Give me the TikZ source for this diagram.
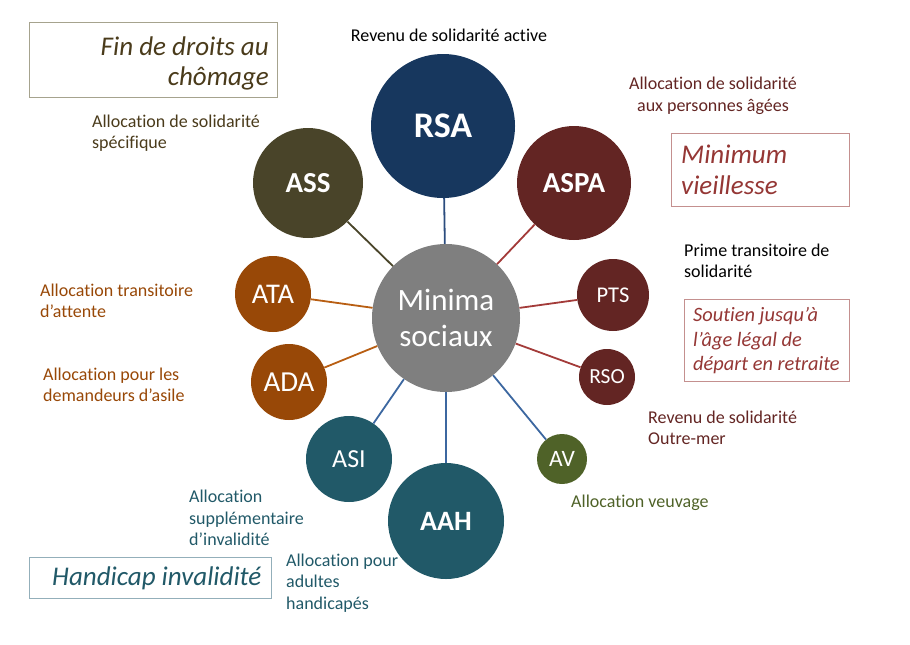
\documentclass[tikz,border=0pt]{standalone}
\usepackage{fontspec}
\setmainfont{Carlito}[Ligatures=NoCommon]
\definecolor{cnavy}{HTML}{17375E}
\definecolor{cdred}{HTML}{632523}
\definecolor{colive}{HTML}{494429}
\definecolor{corange}{HTML}{984807}
\definecolor{cteal}{HTML}{215968}
\definecolor{cgreen}{HTML}{4F6228}
\definecolor{cgray}{HTML}{7F7F7F}
\definecolor{lnavy}{HTML}{2B4C7E}
\definecolor{lred}{HTML}{A33B39}
\definecolor{lolive}{HTML}{4A452A}
\definecolor{lorange}{HTML}{B85E12}
\definecolor{lblue}{HTML}{3C67A0}
\definecolor{tbrown}{HTML}{4A3B1B}
\definecolor{tred}{HTML}{953735}
\definecolor{bolive}{HTML}{A6A38E}
\definecolor{bred}{HTML}{C4908F}
\definecolor{bteal}{HTML}{93AFBA}
\begin{document}
\begin{tikzpicture}[x=1pt,y=-1pt,
  bub/.style={circle,inner sep=0pt,text=white},
  lbl/.style={inner sep=0pt,font=\fontsize{18}{21.5}\selectfont},
  conn/.style={line width=1.8pt},
  cat/.style={line width=1pt,fill=white},
  cattext/.style={inner sep=0pt,font=\itshape}]
\useasboundingbox (0,0) rectangle (910,645);
% circles
\node[bub,fill=cgray,minimum size=148pt,font=\fontsize{31}{36}\selectfont,align=center] (c) at (446,318) {Minima\\sociaux};
\node[bub,fill=cnavy,minimum size=144pt,font=\fontsize{36}{40}\selectfont\bfseries] (rsa) at (443,126) {RSA};
\node[bub,fill=cdred,minimum size=114pt,font=\fontsize{29}{32}\selectfont\bfseries] (aspa) at (574,183) {ASPA};
\node[bub,fill=colive,minimum size=110pt,font=\fontsize{29}{32}\selectfont\bfseries] (ass) at (308,183) {ASS};
\node[bub,fill=cdred,minimum size=72pt,font=\fontsize{22.5}{26}\selectfont] (pts) at (613,295) {PTS};
\node[bub,fill=cdred,minimum size=56pt,font=\fontsize{21.5}{26}\selectfont] (rso) at (607,377) {RSO};
\node[bub,fill=corange,minimum size=76pt,font=\fontsize{28.5}{32}\selectfont] (ata) at (273,294) {ATA};
\node[bub,fill=corange,minimum size=76pt,font=\fontsize{29}{32}\selectfont] (ada) at (289,382) {ADA};
\node[bub,fill=cteal,minimum size=86pt,font=\fontsize{26}{30}\selectfont] (asi) at (349,459) {ASI};
\node[bub,fill=cteal,minimum size=116pt,font=\fontsize{28}{32}\selectfont\bfseries] (aah) at (446,521) {AAH};
\node[bub,fill=cgreen,minimum size=50pt,font=\fontsize{23.5}{28}\selectfont] (av) at (562,459) {AV};
% connectors
\draw[conn,lnavy] (c) -- (rsa);
\draw[conn,lred] (c) -- (aspa);
\draw[conn,lred] (c) -- (pts);
\draw[conn,lred] (c) -- (rso);
\draw[conn,lolive] (c) -- (ass);
\draw[conn,lorange] (c) -- (ata);
\draw[conn,lorange] (c) -- (ada);
\draw[conn,lblue] (c) -- (asi);
\draw[conn,lblue] (c) -- (aah);
\draw[conn,lblue] (c) -- (av);
% labels
\node[lbl,text=black] (lrsa) at (449,35) {Revenu de solidarité active};
\node[lbl,text=cdred,align=center] (laspa) at (713,96) {Allocation de solidarité\\aux personnes âgées};
\node[lbl,text=tbrown,align=left,anchor=west] (lass) at (92,133) {Allocation de solidarité\\spécifique};
\node[lbl,text=black,align=left,anchor=west] (lpts) at (684,261) {Prime transitoire de\\solidarité};
\node[lbl,text=cdred,align=left,anchor=west] (lrso) at (648,428) {Revenu de solidarité\\Outre-mer};
\node[lbl,text=corange,align=left,anchor=west] (lata) at (40,301) {Allocation transitoire\\d’attente};
\node[lbl,text=corange,align=left,anchor=west] (lada) at (43,385) {Allocation pour les\\demandeurs d’asile};
\node[lbl,text=cgreen,anchor=west] (lav) at (571,503) {Allocation veuvage};
\node[lbl,text=cteal,align=left,anchor=west] (lasi) at (189,518) {Allocation\\supplémentaire\\d’invalidité};
\node[lbl,text=cteal,align=left,anchor=west] (laah) at (286,583) {Allocation pour\\adultes\\handicapés};
% category boxes
\draw[cat,draw=bolive] (29,22) rectangle (277,97);
\node[cattext,text=tbrown,align=right,anchor=east,font=\fontsize{27}{30}\selectfont\itshape] (bfin) at (269,63) {Fin de droits au\\chômage};
\draw[cat,draw=bred] (671,133) rectangle (849,206);
\node[cattext,text=tred,align=left,anchor=west,font=\fontsize{27}{31}\selectfont\itshape] (bmin) at (681,170) {Minimum\\vieillesse};
\draw[cat,draw=bred] (684,299) rectangle (849,381);
\node[cattext,text=tred,align=left,anchor=west,font=\fontsize{20.4}{24.5}\selectfont\itshape] (bsou) at (693,341) {Soutien jusqu’à\\l’âge légal de\\départ en retraite};
\draw[cat,draw=bteal] (29,557) rectangle (271,598);
\node[cattext,text=cteal,anchor=west,font=\fontsize{27}{30}\selectfont\itshape] (bhan) at (52,578) {Handicap invalidité};
\end{tikzpicture}
\end{document}
